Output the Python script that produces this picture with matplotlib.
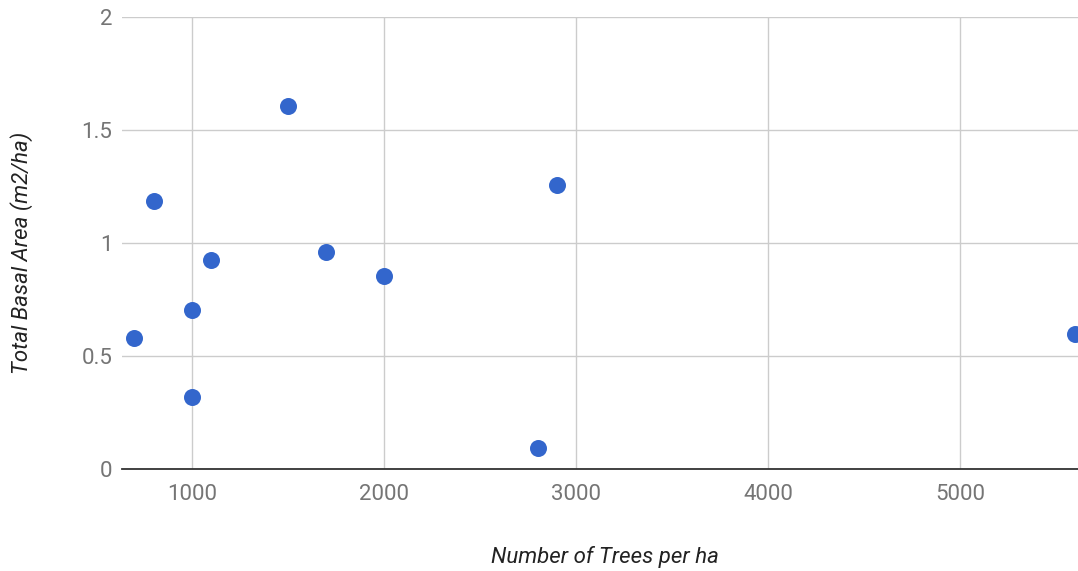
import matplotlib.pyplot as plt

plt.rcParams['font.family'] = ['Roboto', 'DejaVu Sans']

trees = [700, 800, 1000, 1000, 1100, 1500, 1700, 2000, 2800, 2900, 5600]
basal = [0.58, 1.185, 0.705, 0.32, 0.925, 1.605, 0.96, 0.855, 0.095, 1.255, 0.597]

xticks = [1000, 2000, 3000, 4000, 5000]
yticks = [0, 0.5, 1, 1.5, 2]
yticklabels = ['0', '0.5', '1', '1.5', '2']

fig = plt.figure(figsize=(10.78, 5.71), dpi=100)
ax = fig.add_axes([122 / 1078, 102 / 571, 1 - 122 / 1078, 452 / 571])

ax.scatter(trees, basal, s=150, color='#3366cc', zorder=3, linewidths=0)

ax.set_xlim(635, 5615)
ax.set_ylim(0, 2)
ax.set_xticks(xticks)
ax.set_yticks(yticks)
ax.set_yticklabels(yticklabels)
ax.grid(True, color='#cccccc', linewidth=1)
ax.set_axisbelow(True)

for side in ['top', 'right', 'left']:
    ax.spines[side].set_visible(False)
ax.spines['bottom'].set_color('#333333')
ax.spines['bottom'].set_linewidth(1.3)
ax.spines['bottom'].set_zorder(2)

ax.tick_params(length=0, labelsize=16, colors='#757575')
ax.tick_params(axis='x', pad=11)
ax.tick_params(axis='y', pad=7)

ax.set_xlabel('Number of Trees per ha', fontsize=16, style='italic', color='#222222')
ax.set_ylabel('Total Basal Area (m2/ha)', fontsize=16, style='italic', color='#222222')
ax.xaxis.set_label_coords(0.505, (469 - 557) / 452)
ax.xaxis.label.set_va('center')
ax.yaxis.set_label_coords((22 - 122) / 956, (469 - 253) / 452)
ax.yaxis.label.set_va('center')

fig.savefig('out.png', dpi=100)
